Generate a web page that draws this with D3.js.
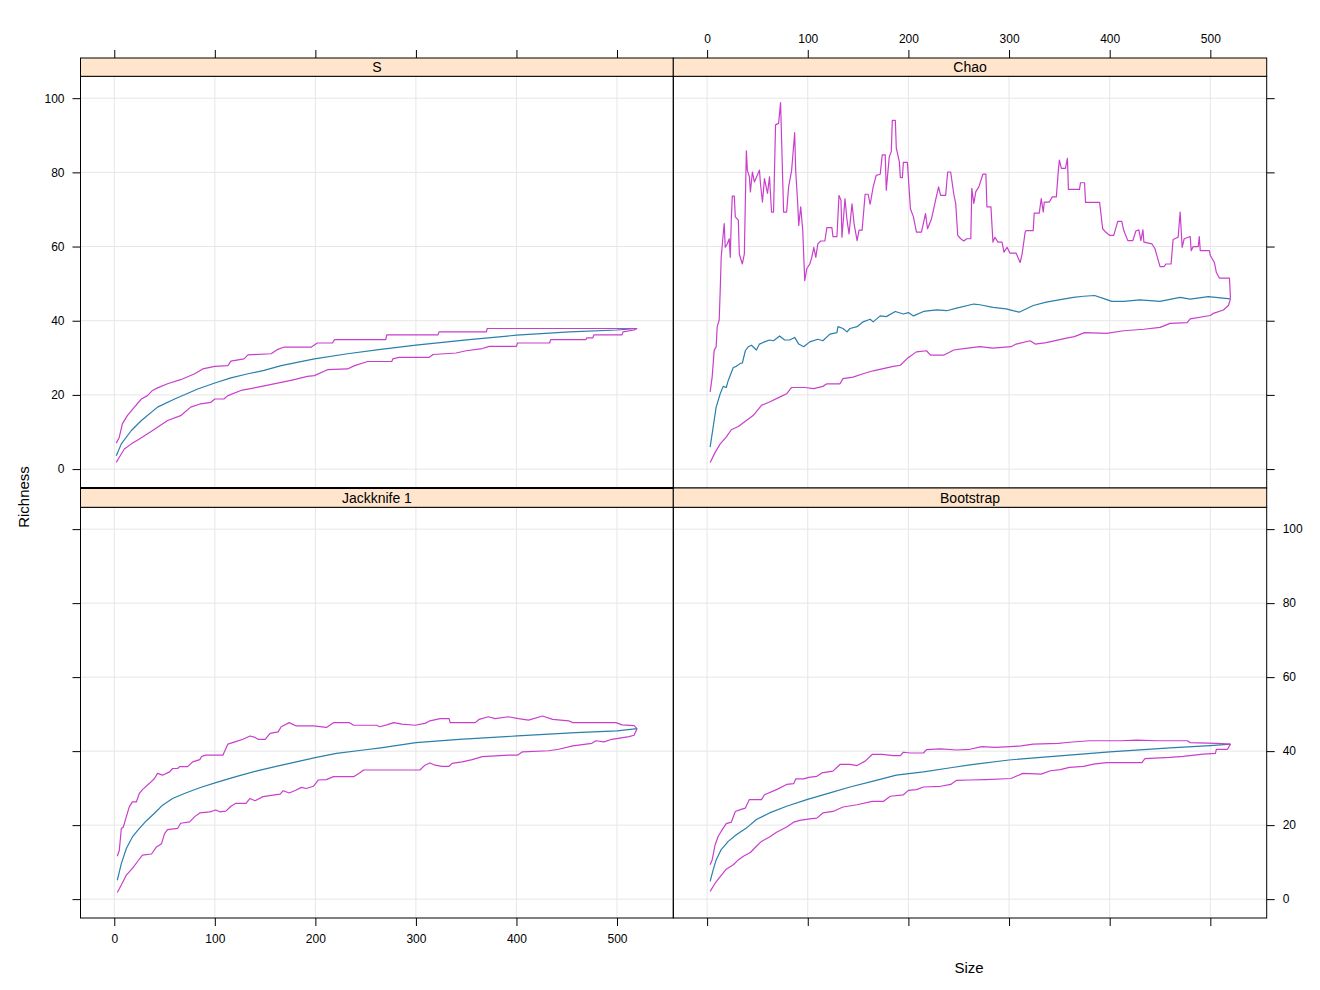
<!DOCTYPE html>
<html>
<head>
<meta charset="UTF-8">
<title>Richness vs Size</title>
<script src="https://d3js.org/d3.v7.min.js"></script>
<style>
  body { margin: 0; padding: 0; background: #fff; }
  svg text { font-family: "Liberation Sans", Arial, sans-serif; fill: #000; }
  .tick text { font-size: 12px; }
  .grid line { stroke: #e6e6e6; stroke-width: 1; }
  .strip text { font-size: 14px; }
</style>
</head>
<body>
<div id="chart"></div>
<script>
// tick values
const sizeTicks = [0, 100, 200, 300, 400, 500];
const richTicks = [0, 20, 40, 60, 80, 100];
const panelNames = ["S", "Chao", "Jackknife 1", "Bootstrap"];

// [size, richness]
const sMean = [[2,3.6],[7,6.8],[17,10.4],[27,13.1],[43,16.7],[60,18.9],[83,21.6],[100,23.2],[116,24.6],[133,25.7],[149,26.6],[166,27.9],[199,29.7],[232,31.1],[265,32.3],[300,33.4],[353,34.9],[400,36.1],[453,37.0],[500,37.5],[520,37.9]];
const sUpper = [[2,7.0],[5,8.6],[8,12.2],[13,14.4],[20,16.7],[27,18.9],[33,19.8],[38,21.2],[43,21.9],[53,23.0],[66,24.1],[80,25.7],[88,27.0],[100,27.7],[113,27.9],[116,29.1],[129,29.7],[133,30.8],[156,31.1],[162,32.2],[169,32.9],[196,32.9],[202,34.0],[217,34.0],[219,34.9],[270,34.9],[271,36.2],[322,36.2],[323,37.0],[370,37.0],[371,37.9],[520,37.9]];
const sLower = [[2,1.8],[5,3.2],[10,5.4],[17,6.8],[23,7.8],[30,9.0],[37,10.2],[43,11.3],[53,13.1],[66,14.4],[76,16.7],[86,17.6],[96,18.0],[100,18.9],[109,18.9],[113,19.8],[126,21.2],[143,22.1],[166,23.4],[179,24.1],[192,25.0],[199,25.2],[212,26.8],[232,27.0],[239,27.9],[252,29.0],[276,29.0],[277,29.7],[283,30.1],[313,30.1],[317,30.9],[340,31.3],[350,31.9],[366,32.5],[373,33.1],[400,33.1],[401,34.0],[433,34.0],[434,34.9],[469,34.9],[470,35.4],[476,35.4],[477,36.2],[505,36.2],[506,37.0],[517,37.5],[520,37.9]];

const chaoMean = [[3,5.9],[6,11.3],[9,16.7],[13,20.3],[16,22.3],[19,22.0],[21,23.9],[23,25.3],[26,27.4],[29,27.7],[33,28.5],[35,28.6],[38,31.9],[41,33.0],[44,33.4],[49,32.1],[52,33.7],[57,34.3],[62,34.8],[66,34.6],[72,35.9],[77,34.8],[82,34.8],[87,35.5],[91,33.7],[96,33.0],[102,34.3],[110,35.0],[115,34.6],[122,36.4],[129,36.8],[130,38.4],[135,37.9],[139,37.0],[142,37.9],[149,38.4],[155,39.7],[162,40.4],[165,39.7],[172,41.3],[178,41.1],[187,42.5],[195,41.8],[200,42.2],[205,41.3],[215,42.5],[228,42.9],[238,42.7],[248,43.4],[265,44.5],[271,44.3],[284,43.6],[297,43.2],[310,42.3],[324,44.1],[337,45.0],[351,45.7],[364,46.3],[374,46.6],[385,46.8],[395,45.9],[402,45.2],[414,45.2],[430,45.6],[450,45.2],[470,46.3],[480,45.8],[498,46.5],[520,45.9]];
const chaoUpper = [[3,20.8],[5,24.8],[7,32],[9,33],[10,38.4],[12,40.2],[13,48],[14,57.1],[16,63.4],[17,66.2],[18,59.8],[20,60.7],[22,62.1],[23,57.1],[24,67.1],[25,73.6],[27,73.6],[28,68.0],[31,67.1],[32,58.0],[35,55.3],[37,58.0],[38,72.5],[39,85.8],[40,80.6],[42,78.8],[43,74.7],[45,80.1],[47,77.4],[52,80.6],[53,77.0],[55,72.0],[57,78.3],[60,74.3],[62,78.8],[64,69.3],[66,69.3],[68,92.8],[71,93.2],[73,98.8],[74,88.7],[76,69.3],[79,69.3],[81,76.1],[84,80.6],[87,90.7],[88,80.6],[90,71.6],[91,65.7],[93,70.7],[95,64.4],[97,50.8],[99,54.0],[102,55.3],[104,57.1],[106,59.8],[108,57.1],[110,60.7],[113,61.5],[117,61.5],[119,65.1],[124,65.1],[125,62.7],[129,62.7],[131,73.8],[133,72.5],[134,62.5],[137,72.9],[139,67.1],[141,63.4],[144,71.5],[146,66.2],[149,61.6],[151,64.4],[154,64.4],[157,74.1],[160,74.1],[162,71.4],[165,76.1],[168,79.2],[172,79.5],[174,84.7],[177,84.7],[178,75.2],[181,84.2],[183,85.6],[184,94.0],[187,94.0],[188,86.5],[191,82.9],[192,78.6],[194,78.6],[195,82.7],[199,82.7],[202,70.2],[205,68.0],[208,63.9],[213,63.9],[217,68.9],[219,64.8],[223,67.5],[227,72.5],[230,76.1],[232,73.8],[237,73.8],[239,80.1],[242,80.1],[245,74.3],[247,71.6],[249,63.0],[252,62.1],[255,61.5],[258,62.1],[262,62.1],[263,75.7],[265,71.6],[267,74.8],[270,76.1],[274,79.5],[277,79.5],[278,70.7],[282,70.7],[284,61.2],[286,62.5],[289,61.2],[293,61.2],[295,58.5],[298,59.8],[301,58.2],[307,58.2],[311,55.7],[313,58.0],[316,63.9],[317,64.3],[324,64.3],[325,69.0],[330,69.0],[332,72.9],[334,69.3],[335,72.0],[340,72.0],[343,73.4],[347,73.4],[349,80.6],[350,83.3],[352,81.1],[356,81.1],[358,83.8],[359,75.4],[370,75.4],[371,77.2],[375,77.2],[376,71.9],[390,71.9],[393,64.8],[396,63.9],[400,63.0],[404,63.0],[408,66.8],[412,66.8],[414,64.3],[418,61.6],[423,61.6],[426,64.2],[429,64.5],[431,61.6],[433,64.5],[434,61.2],[442,60.7],[445,59.4],[450,54.6],[454,54.6],[456,55.3],[461,55.3],[463,61.9],[468,62.5],[470,69.3],[472,59.8],[474,62.1],[480,62.7],[481,58.9],[483,60.0],[488,60.0],[489,62.7],[490,58.9],[499,58.9],[500,57.6],[504,55.7],[506,53.0],[509,51.5],[519,51.5],[520,46.0]];
const chaoLower = [[3,1.8],[8,4.5],[13,6.8],[19,8.6],[24,10.6],[31,11.5],[39,13.1],[46,14.5],[54,17.2],[62,18.1],[72,19.4],[79,20.3],[84,22.0],[97,22.0],[106,21.7],[115,22.3],[119,23.0],[132,23.0],[135,24.4],[145,24.8],[155,25.7],[165,26.5],[175,27.1],[185,27.7],[192,28.0],[200,30.1],[208,31.6],[218,31.9],[222,30.7],[235,30.7],[245,32.1],[255,32.5],[271,33.0],[284,32.6],[302,33.0],[307,33.7],[321,34.6],[326,33.7],[337,34.1],[357,35.3],[365,35.7],[375,36.8],[397,36.6],[414,37.3],[434,37.7],[450,38.2],[460,39.3],[477,39.5],[480,40.5],[500,41.4],[503,42.0],[513,42.9],[518,44.1],[520,45.9]];

const jackMean = [[3,5.1],[7,9.6],[12,13.7],[18,16.8],[25,19.1],[32,21.2],[40,23.2],[48,25.4],[58,27.2],[71,28.7],[85,30.1],[101,31.5],[121,33.1],[141,34.6],[161,35.9],[181,37.1],[201,38.3],[221,39.4],[248,40.3],[265,40.9],[300,42.3],[343,43.2],[401,44.1],[459,45.0],[500,45.5],[520,46.1]];
const jackUpper = [[3,11.6],[5,13.2],[7,19.1],[9,19.5],[12,22.3],[15,25.0],[18,26.3],[22,26.3],[25,28.6],[28,29.6],[35,31.3],[40,32.6],[43,34.0],[48,33.5],[55,34.4],[58,35.3],[63,35.3],[65,35.8],[73,35.8],[78,37.1],[85,37.7],[87,38.6],[91,38.9],[108,38.9],[113,41.9],[120,42.5],[128,43.2],[135,44.1],[140,43.7],[143,43.2],[150,43.2],[155,44.8],[163,45.2],[166,46.6],[174,47.7],[181,46.8],[198,46.8],[211,46.4],[218,47.7],[234,47.7],[238,47.0],[261,47.0],[264,46.6],[271,47.1],[278,47.7],[286,47.3],[299,47.0],[309,47.5],[314,48.2],[324,48.8],[333,48.8],[334,47.7],[359,47.7],[363,48.6],[372,49.3],[379,48.8],[392,49.3],[402,48.8],[412,48.4],[426,49.5],[436,48.6],[452,48.2],[456,47.7],[499,47.7],[505,47.1],[517,46.9],[520,46.1]];
const jackLower = [[3,1.8],[7,3.8],[12,6.5],[18,8.3],[23,10.1],[28,11.9],[37,12.2],[42,14.1],[47,15.0],[50,17.7],[53,18.8],[63,19.1],[66,20.5],[75,20.9],[80,22.3],[85,23.3],[95,23.6],[101,24.1],[105,23.6],[111,23.8],[116,25.1],[121,25.9],[131,25.9],[135,27.2],[140,26.6],[148,27.7],[158,28.1],[165,28.4],[168,29.3],[174,28.7],[181,29.5],[186,30.2],[191,29.9],[198,30.5],[203,32.2],[211,32.3],[218,33.1],[238,33.1],[244,34.1],[248,34.9],[304,34.9],[309,36.2],[314,36.8],[319,36.2],[326,35.9],[333,35.9],[336,36.7],[346,37.1],[356,37.7],[366,38.5],[392,38.9],[401,38.9],[406,39.8],[432,40.1],[442,40.5],[456,41.4],[475,42.1],[479,42.8],[487,42.5],[495,43.2],[512,43.9],[517,44.3],[520,46.1]];

const bootMean = [[3,4.8],[6,7.9],[9,10.6],[14,13.4],[21,15.6],[29,17.4],[39,19.2],[49,21.5],[62,23.3],[79,25.1],[99,26.9],[122,28.7],[142,30.3],[165,31.9],[188,33.5],[215,34.4],[242,35.5],[261,36.3],[300,37.6],[344,38.6],[400,39.8],[460,40.9],[500,41.5],[520,41.9]];
const bootUpper = [[3,9.3],[5,10.6],[8,14.7],[11,17.0],[16,19.2],[19,20.4],[24,20.8],[28,23.7],[33,24.2],[38,24.6],[42,26.9],[54,26.9],[57,28.2],[69,29.6],[79,31.0],[86,31.2],[88,32.5],[96,32.5],[101,32.9],[109,33.2],[114,34.1],[125,34.6],[132,36.4],[142,36.4],[149,36.1],[157,37.3],[164,39.1],[174,39.1],[185,38.8],[192,38.8],[195,39.7],[202,39.5],[215,39.5],[218,40.4],[232,40.6],[248,40.3],[261,40.5],[273,41.2],[286,41.0],[301,41.2],[312,41.4],[324,41.9],[349,42.1],[360,42.4],[380,42.8],[411,42.8],[427,43.0],[447,42.8],[477,42.8],[480,42.3],[506,42.1],[520,41.9]];
const bootLower = [[3,2.1],[8,4.3],[13,6.1],[19,8.1],[26,9.3],[31,10.6],[36,11.6],[43,12.6],[49,14.3],[54,15.6],[62,16.8],[69,18.1],[79,19.5],[86,20.8],[92,21.3],[102,21.7],[109,21.9],[115,23.3],[125,23.7],[135,24.9],[149,25.5],[164,26.4],[175,26.4],[182,27.8],[195,28.2],[200,29.4],[208,29.6],[215,30.3],[232,30.5],[242,31.0],[248,32.1],[261,32.2],[277,32.3],[302,32.6],[307,33.2],[314,34.0],[332,33.8],[341,34.7],[351,35.0],[360,35.6],[374,35.9],[384,36.5],[397,36.9],[432,36.9],[435,38.0],[460,38.3],[473,38.6],[493,39.2],[505,39.4],[506,40.5],[517,40.5],[520,41.9]];

const meanColor = "#2a7fab";
const boundColor = "#c93fcb";

const width = 1320, height = 990;
const svg = d3.select("#chart").append("svg")
  .attr("width", width).attr("height", height);

// panel layout (lattice 2x2)
const cols = [[80.5, 673.3], [673.3, 1266.7]];
const rows = [
  { strip: [58, 76.3], panel: [76.3, 488] },
  { strip: [488, 507.3], panel: [507.3, 918] }
];
const xDomain = [-33.6, 556];
const yDomain = [-5.1, 105.9];

const panels = [
  { name: panelNames[0], r: 0, c: 0, series: [sMean, sUpper, sLower] },
  { name: panelNames[1], r: 0, c: 1, series: [chaoMean, chaoUpper, chaoLower] },
  { name: panelNames[2], r: 1, c: 0, series: [jackMean, jackUpper, jackLower] },
  { name: panelNames[3], r: 1, c: 1, series: [bootMean, bootUpper, bootLower] }
];

panels.forEach((p, i) => {
  const col = cols[p.c], row = rows[p.r];
  const x = d3.scaleLinear().domain(xDomain).range(col);
  const y = d3.scaleLinear().domain(yDomain).range([row.panel[1], row.panel[0]]);
  const g = svg.append("g");

  const clipId = "clip" + i;
  svg.append("clipPath").attr("id", clipId)
    .append("rect")
    .attr("x", col[0]).attr("y", row.panel[0])
    .attr("width", col[1] - col[0]).attr("height", row.panel[1] - row.panel[0]);

  // grid
  const grid = g.append("g").attr("class", "grid");
  grid.selectAll(".gx").data(sizeTicks).enter().append("line")
    .attr("x1", d => x(d)).attr("x2", d => x(d))
    .attr("y1", row.panel[0]).attr("y2", row.panel[1]);
  grid.selectAll(".gy").data(richTicks).enter().append("line")
    .attr("x1", col[0]).attr("x2", col[1])
    .attr("y1", d => y(d)).attr("y2", d => y(d));

  // curves
  const line = d3.line().x(d => x(d[0])).y(d => y(d[1]));
  const lines = g.append("g").attr("clip-path", `url(#${clipId})`);
  p.series.forEach((s, k) => {
    lines.append("path")
      .datum(s)
      .attr("d", line)
      .attr("fill", "none")
      .attr("stroke", k === 0 ? meanColor : boundColor)
      .attr("stroke-width", 1.2)
      .attr("stroke-linejoin", "round");
  });

  // panel border
  g.append("rect")
    .attr("x", col[0]).attr("y", row.panel[0])
    .attr("width", col[1] - col[0]).attr("height", row.panel[1] - row.panel[0])
    .attr("fill", "none").attr("stroke", "#000").attr("stroke-width", 1);

  // strip
  const strip = g.append("g").attr("class", "strip");
  strip.append("rect")
    .attr("x", col[0]).attr("y", row.strip[0])
    .attr("width", col[1] - col[0]).attr("height", row.strip[1] - row.strip[0])
    .attr("fill", "#ffe5cc").attr("stroke", "#000").attr("stroke-width", 1);
  strip.append("text")
    .attr("x", (col[0] + col[1]) / 2)
    .attr("y", (row.strip[0] + row.strip[1]) / 2 + 5)
    .attr("text-anchor", "middle")
    .text(p.name);

  // axes: lattice alternating labels
  const noLab = () => "";
  function styleAxis(sel) {
    sel.select(".domain").remove();
    sel.selectAll(".tick line").attr("stroke", "#000");
  }
  if (p.c === 0) {
    const ax = d3.axisLeft(y).tickValues(richTicks).tickSize(8).tickPadding(8);
    if (p.r === 1) ax.tickFormat(noLab);
    g.append("g").attr("transform", `translate(${col[0]},0)`).call(ax).call(styleAxis);
  } else {
    const ax = d3.axisRight(y).tickValues(richTicks).tickSize(8).tickPadding(8);
    if (p.r === 0) ax.tickFormat(noLab);
    g.append("g").attr("transform", `translate(${col[1]},0)`).call(ax).call(styleAxis);
  }
  if (p.r === 0) {
    const ax = d3.axisTop(x).tickValues(sizeTicks).tickSize(8).tickPadding(7);
    if (p.c === 0) ax.tickFormat(noLab);
    g.append("g").attr("transform", `translate(0,${row.strip[0]})`).call(ax).call(styleAxis);
  } else {
    const ax = d3.axisBottom(x).tickValues(sizeTicks).tickSize(8).tickPadding(8);
    if (p.c === 1) ax.tickFormat(noLab);
    g.append("g").attr("transform", `translate(0,${row.panel[1]})`).call(ax).call(styleAxis);
  }
});

// heavier separator under the top-left panel
svg.append("line")
  .attr("x1", cols[0][0]).attr("x2", cols[0][1])
  .attr("y1", rows[1].strip[0]).attr("y2", rows[1].strip[0])
  .attr("stroke", "#000").attr("stroke-width", 2);

// axis titles
svg.append("text")
  .attr("transform", "translate(29,497) rotate(-90)")
  .attr("text-anchor", "middle")
  .style("font-size", "15px")
  .text("Richness");
svg.append("text")
  .attr("x", 969).attr("y", 973)
  .attr("text-anchor", "middle")
  .style("font-size", "15px")
  .text("Size");
</script>
</body>
</html>
